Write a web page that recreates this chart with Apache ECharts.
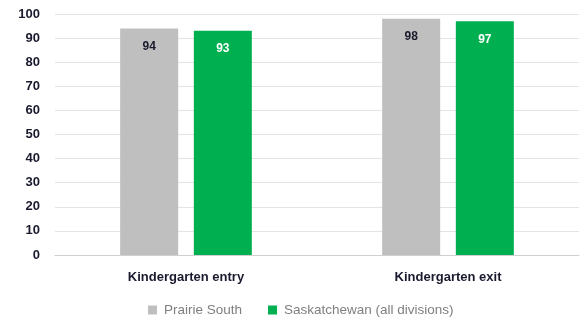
<!DOCTYPE html>
<html>
<head>
<meta charset="utf-8">
<script src="https://cdn.jsdelivr.net/npm/echarts@6/dist/echarts.min.js"></script>
<style>
  html, body { margin: 0; padding: 0; background: #ffffff; }
  #chart { width: 581px; height: 322px; }
</style>
</head>
<body>
<div id="chart"></div>
<script>
// Categories and series values
var categories = ['Kindergarten entry', 'Kindergarten exit'];
var seriesNames = ['Prairie South', 'Saskatchewan (all divisions)'];
var prairieSouth = [94, 98];
var saskatchewan = [93, 97];
var yTicks = [0, 10, 20, 30, 40, 50, 60, 70, 80, 90, 100];

var FONT = '"Liberation Sans", Arial, sans-serif';

var chart = echarts.init(document.getElementById('chart'), null, { renderer: 'canvas' });

chart.setOption({
  animation: false,
  backgroundColor: '#ffffff',
  textStyle: { fontFamily: FONT },
  grid: { left: 55, right: 2, top: 14, bottom: 67, containLabel: false },
  legend: {
    top: 298,
    left: 143,
    itemWidth: 9,
    itemHeight: 9,
    itemGap: 26,
    icon: 'rect',
    textStyle: { color: '#7f7f7f', fontSize: 13.5, fontFamily: FONT, padding: [0, 0, 0, 2] },
    data: seriesNames
  },
  xAxis: {
    type: 'category',
    data: categories,
    axisLine: { show: true, lineStyle: { color: '#d0d0d0', width: 1 } },
    axisTick: { show: false },
    axisLabel: { color: '#1a1a2e', fontWeight: 'bold', fontSize: 13, margin: 16, fontFamily: FONT }
  },
  yAxis: {
    type: 'value',
    min: yTicks[0],
    max: yTicks[yTicks.length - 1],
    interval: 10,
    axisLine: { show: false },
    axisTick: { show: false },
    splitLine: { lineStyle: { color: '#e3e3e3', width: 1 } },
    axisLabel: { color: '#1a1a2e', fontWeight: 'bold', fontSize: 13, margin: 15, fontFamily: FONT }
  },
  series: [
    {
      name: seriesNames[0],
      type: 'bar',
      data: prairieSouth,
      barWidth: 58,
      barGap: '27%',
      itemStyle: { color: '#bfbfbf' },
      label: {
        show: true,
        position: 'insideTop',
        distance: 12,
        color: '#1a1a2e',
        fontWeight: 'bold',
        fontSize: 12,
        fontFamily: FONT
      }
    },
    {
      name: seriesNames[1],
      type: 'bar',
      data: saskatchewan,
      barWidth: 58,
      itemStyle: { color: '#00b050' },
      label: {
        show: true,
        position: 'insideTop',
        distance: 12,
        color: '#ffffff',
        fontWeight: 'bold',
        fontSize: 12,
        fontFamily: FONT
      }
    }
  ]
});
</script>
</body>
</html>
